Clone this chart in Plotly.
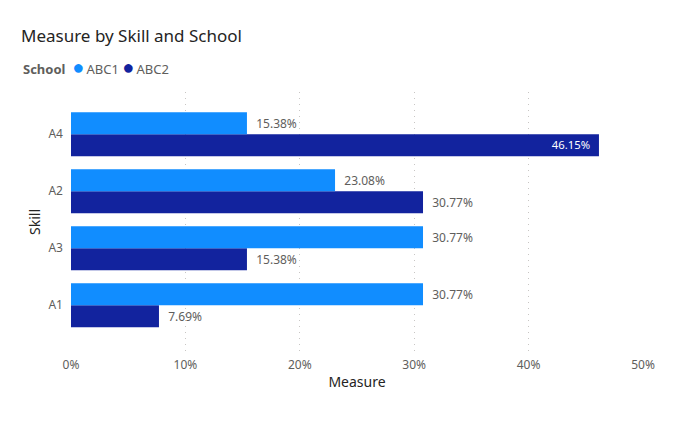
import plotly.graph_objects as go

skills = ["A1", "A3", "A2", "A4"]  # bottom to top
abc1 = [0.3077, 0.3077, 0.2308, 0.1538]
abc2 = [0.0769, 0.1538, 0.3077, 0.4615]
x_ticks = [0, 0.1, 0.2, 0.3, 0.4, 0.5]
x_tick_labels = ["0%", "10%", "20%", "30%", "40%", "50%"]
series_names = ["ABC1", "ABC2"]
legend_title = "School"

C1 = "#118DFF"
C2 = "#12239E"
FONT = "Segoe UI, Noto Sans, Open Sans, sans-serif"
GRAY = "#605E5C"

def is_inside(v):
    return v > 0.4

def positions(vals):
    return ["inside" if is_inside(v) else "outside" for v in vals]

def colors(vals):
    return ["#FFFFFF" if is_inside(v) else GRAY for v in vals]

def templates(vals):
    return ["%{x:.2%}  " if is_inside(v) else "  %{x:.2%}" for v in vals]

fig = go.Figure()
for nm, vals, c in [(series_names[1], abc2, C2), (series_names[0], abc1, C1)]:
    fig.add_trace(go.Bar(
        y=skills, x=vals, orientation="h", name=nm, marker_color=c,
        marker_line_width=0, texttemplate=templates(vals),
        textposition=positions(vals),
        insidetextanchor="end", textangle=0,
        textfont=dict(color=colors(vals), size=12, family=FONT),
        showlegend=False, cliponaxis=False))

legend_html = (f"<b>{legend_title}</b>  "
               f"<span style='color:{C1};font-size:20px'>●</span>\u2009{series_names[0]} "
               f"<span style='color:{C2};font-size:20px'>●</span>\u2009{series_names[1]}")

fig.update_layout(
    width=686, height=425,
    paper_bgcolor="white", plot_bgcolor="white",
    margin=dict(l=71, r=43, t=92, b=73, autoexpand=False),
    barmode="group", bargap=0.228, bargroupgap=0,
    font=dict(family=FONT, color=GRAY, size=12),
    showlegend=False,
    title=dict(text="Measure by Skill and School", x=21/686, xanchor="left",
               y=1-36/425, yanchor="middle", pad=dict(l=0, r=0, t=0, b=0),
               font=dict(size=17, color="#252423", family=FONT)),
    annotations=[dict(text=legend_html, xref="paper", yref="paper",
                      x=(21-71)/572, xanchor="left",
                      y=1 + (92-67)/260, yanchor="middle", showarrow=False,
                      font=dict(size=13, color=GRAY, family=FONT))],
    xaxis=dict(range=[0, 0.5], tickvals=x_ticks, ticktext=x_tick_labels,
               showgrid=True, gridcolor="#C8C6C4", griddash="1px,5px", gridwidth=1,
               zeroline=False, showline=False, automargin=False,
               tickfont=dict(size=12, color=GRAY), ticklabelstandoff=4,
               title=dict(text="Measure", font=dict(size=14, color="#252423"), standoff=5)),
    yaxis=dict(categoryorder="array", categoryarray=skills,
               range=[-0.82, 3.74], showgrid=False, zeroline=False, showline=False,
               automargin=False,
               tickfont=dict(size=12, color=GRAY), ticklabelstandoff=7,
               title=dict(text="Skill", font=dict(size=14, color="#252423"), standoff=4)),
)

fig.write_html("out.html", config={"displayModeBar": False},
               post_script="document.body.style.margin='0';document.body.style.padding='0';")
